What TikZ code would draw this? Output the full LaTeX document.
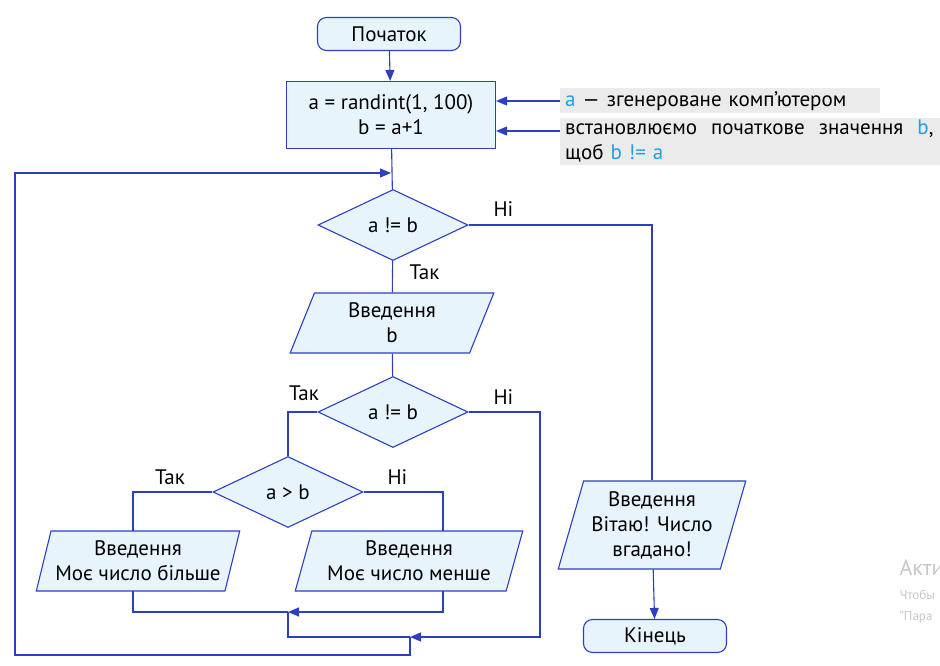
\documentclass[tikz,border=0pt]{standalone}
\usepackage{fontspec}
\setmainfont{PT Sans}
\usetikzlibrary{shapes.geometric,arrows.meta}
\definecolor{lineblue}{HTML}{2B3FBF}
\definecolor{fillblue}{HTML}{E8F4FC}
\definecolor{cyantxt}{HTML}{1BA1E2}
\definecolor{notegray}{HTML}{EBEBEB}
\tikzset{
  box/.style={draw=lineblue, fill=fillblue, line width=1.1pt, align=center},
  term/.style={box, rounded corners=9pt, minimum width=143pt, minimum height=33pt},
  proc/.style={box, minimum width=209pt, minimum height=67pt},
  cond/.style={box, diamond, aspect=2, inner sep=0pt, minimum width=150pt, minimum height=71pt},
  io/.style={box, trapezium, trapezium left angle=72, trapezium right angle=108,
    trapezium stretches=true, minimum height=60pt, inner sep=2pt},
  flow/.style={draw=lineblue, line width=1.1pt},
  arr/.style={flow, -{Triangle[length=11pt,width=9pt]}},
  lbl/.style={font=\fontsize{21}{24}\selectfont},
  note/.style={fill=notegray, anchor=north west, align=left, inner sep=5pt}
}
\newcommand{\cy}[1]{\textcolor{cyantxt}{#1}}
\begin{document}
\begin{tikzpicture}[x=1pt, y=-1pt, font=\fontsize{21}{25}\selectfont]
\useasboundingbox (0,0) rectangle (940,665);

\node[term] (start) at (389,34) {Початок};
\node[proc] (init) at (391,115) {a = randint(1, 100)\\b = a+1};
\node[cond] (check) at (393,225) {a != b};
\node[io, minimum width=204pt] (input) at (392,323) {Введення\\b};
\node[cond] (same) at (393,412) {a != b};
\node[cond] (more) at (288,492) {a > b};
\node[io, minimum width=204pt] (big) at (138,561) {Введення\\Моє число більше};
\node[io, minimum width=228pt] (small) at (409,561) {Введення\\Моє число менше};
\node[io, minimum width=188pt, minimum height=88pt] (win) at (652,525) {Введення\\Вітаю! Число\\вгадано!};
\node[term] (stop) at (655,636) {Кінець};

% -------- notes -----------
\node[note, minimum width=320pt, text width=310pt, minimum height=25pt, inner ysep=2pt] (note1) at (560,88) {\cy{a} — згенероване комп’ютером};
\node[note, minimum width=380pt, text width=370pt, inner ysep=2pt] (note2) at (560,118)
  {встановлюємо\ \ початкове\ \ значення\ \ \cy{b},\\щоб \cy{b !=\ a}};
\coordinate (n1) at (560,101);
\coordinate (n2) at (560,131);
\draw[arr] (n1) -- (n1 -| init.east);
\draw[arr] (n2) -- (n2 -| init.east);

% -------- connectors -----------
\draw[arr] (start) -- (init);
\draw[flow] (init) -- (check);
\draw[flow] (check) -- (input);
\draw[flow] (input) -- (same);
\draw[flow] (check.east) -| (win.north -| 652,0);
\draw[arr] (win) -- (stop);
\draw[flow] (same.west) -| (more.north);
\draw[flow] (more.west) -| (133,531);
\draw[flow] (more.east) -| (443,531);

\coordinate (m1) at (288,612);
\coordinate (m2) at (410,637);
\coordinate (m3) at (391,173);
\draw[flow] (133,591) |- (m1);
\draw[arr] (443,591) |- (m1);
\draw[flow] (m1) |- (m2);
\draw[arr] (same.east) -| (540,637) -- (m2);
\draw[arr] (m2) -- (410,655) -| (15,173) -- (m3);

\node[lbl, anchor=south west] at (490,220) {Ні};
\node[lbl, anchor=north west] at (406,261) {Так};
\node[lbl, anchor=south] at (304,404) {Так};
\node[lbl, anchor=south west] at (490,408) {Ні};
\node[lbl, anchor=south] at (170,488) {Так};
\node[lbl, anchor=south west] at (384,488) {Ні};

% -------- watermark -----------
\node[anchor=west, text=black!22, font=\fontsize{22}{24}\selectfont] at (896,568) {Акти};
\node[anchor=west, text=black!22, font=\fontsize{13}{14}\selectfont] at (896,595) {Чтобы};
\node[anchor=west, text=black!22, font=\fontsize{13}{14}\selectfont] at (896,617) {"Пара};
\end{tikzpicture}
\end{document}
